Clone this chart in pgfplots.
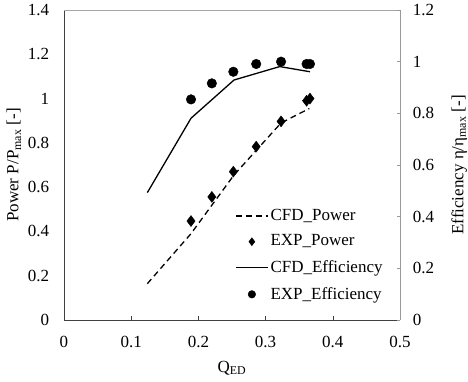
\documentclass[border=0pt]{standalone}
\usepackage{fontspec}
\setmainfont{Liberation Serif}
\usepackage{pgfplots}
\pgfplotsset{compat=1.18}
\begin{document}
\begin{tikzpicture}
\fontsize{17}{19}\selectfont
\path[use as bounding box] (-64pt,-61pt) rectangle (404pt,320pt);
\pgfplotsset{
  every axis/.append style={
    scale only axis, width=336pt, height=310pt,
    xmin=0, xmax=0.5,
    font=\fontsize{17}{19}\selectfont,
    /pgf/number format/assume math mode=true,
    tick label style={font=\fontsize{17}{19}\selectfont},
    label style={font=\fontsize{17}{19}\selectfont},
  },
  myleg/.style={legend image code/.code={%
    \draw[mark repeat=2,mark phase=2,##1] plot coordinates {(0pt,0pt) (16pt,0pt) (32pt,0pt)};}},
}
\begin{axis}[
  at={(0,0)}, anchor=south west,
  ymin=0, ymax=1.4,
  axis x line*=bottom, axis y line*=left,
  axis line style={black!75, line width=0.8pt},
  xtick={0,0.1,0.2,0.3,0.4,0.5},
  xticklabels={0,0.1,0.2,0.3,0.4,0.5},
  ytick={0,0.2,0.4,0.6,0.8,1,1.2,1.4},
  yticklabels={0,0.2,0.4,0.6,0.8,1,1.2,1.4},
  x tick style={black!75, line width=0.6pt},
  y tick style={draw=none},
  xtick align=inside, major tick length=4pt,
  xticklabel style={yshift=-10pt},
  yticklabel style={xshift=-9pt},
  xlabel={Q\textsubscript{ED}},
  ylabel={Power P/P\textsubscript{max} [-]},
  xlabel style={at={(axis description cs:0.5,-0.155)}, anchor=center},
  ylabel style={at={(axis description cs:-0.149,0.5)}, anchor=center},
  clip=false,
]
\draw[gray!70, line width=0.8pt] (rel axis cs:0,1) -- (rel axis cs:1,1);
\addplot[black, line width=1.3pt, dash pattern=on 6pt off 4pt] coordinates {
  (0.124,0.164) (0.189,0.39) (0.253,0.655) (0.323,0.89) (0.365,0.955)
};
\addplot[only marks, mark=diamond*, mark size=5.5pt, black] coordinates {
  (0.189,0.447) (0.220,0.556) (0.252,0.670) (0.286,0.783) (0.323,0.897) (0.361,0.99) (0.366,1.0)
};
\end{axis}
\begin{axis}[
  at={(0,0)}, anchor=south west,
  ymin=0, ymax=1.2,
  axis x line=none, axis y line*=right,
  axis line style={gray!80, line width=0.8pt},
  ytick={0,0.2,0.4,0.6,0.8,1,1.2},
  yticklabels={0,0.2,0.4,0.6,0.8,1,1.2},
  y tick style={gray!80, line width=0.6pt},
  ytick align=inside, major tick length=3pt,
  yticklabel style={xshift=7pt},
  ylabel={Efficiency η/η\textsubscript{max} [-]},
  ylabel style={at={(axis description cs:1.176,0.5)}, anchor=center},
  myleg,
  legend style={draw=none, fill=none, at={(rel axis cs:0.509,0.365)}, anchor=north west,
    font=\fontsize{17}{19}\selectfont, row sep=8pt, inner sep=0pt,
    legend cell align=left},
  clip=false,
]
\addlegendimage{black, line width=1.3pt, dash pattern=on 6pt off 4pt}
\addlegendentry{CFD\_Power}
\addlegendimage{only marks, mark=diamond*, mark size=4pt, black}
\addlegendentry{EXP\_Power}
\addlegendimage{black, line width=1.3pt}
\addlegendentry{CFD\_Efficiency}
\addlegendimage{only marks, mark=*, mark size=3.8pt, black}
\addlegendentry{EXP\_Efficiency}
\addplot[black, line width=1.3pt, forget plot] coordinates {
  (0.124,0.493) (0.189,0.781) (0.253,0.929) (0.321,0.981) (0.366,0.961)
};
\addplot[only marks, mark=*, mark size=4.8pt, black, forget plot] coordinates {
  (0.189,0.854) (0.220,0.916) (0.252,0.961) (0.286,0.991) (0.323,1.0) (0.361,0.991) (0.366,0.991)
};
\end{axis}
\end{tikzpicture}
\end{document}
